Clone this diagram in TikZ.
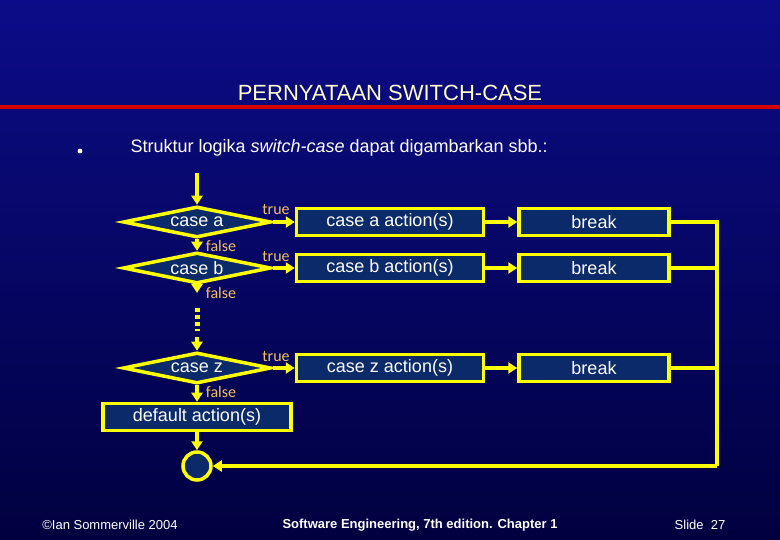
\documentclass[tikz,border=0pt]{standalone}
\usepackage{fontspec}
\setmainfont{Liberation Sans}
\newfontfamily\carl{Carlito}
\usetikzlibrary{shapes.geometric,arrows.meta}
\definecolor{bgtop}{HTML}{0C0C88}
\definecolor{bgbot}{HTML}{000040}
\definecolor{yel}{HTML}{FFFF00}
\definecolor{boxfill}{HTML}{0B2A6A}
\definecolor{lab}{HTML}{F0C060}
\definecolor{ttl}{HTML}{FFFFCC}
\begin{document}
\begin{tikzpicture}[x=1pt,y=-1pt,
  box/.style={draw=yel,line width=3.5pt,fill=boxfill,minimum height=27pt,text=white,font=\fontsize{18}{18}\selectfont,inner sep=0pt},
  dia/.style={diamond,draw=yel,line width=3.5pt,fill=boxfill,aspect=5,minimum width=148pt,minimum height=31pt,inner sep=0pt,text=white,font=\fontsize{18}{18}\selectfont},
  con/.style={yel,line width=3.5pt},
  arr/.style={con,-{Triangle[length=9pt,width=11pt]}},
  lbl/.style={text=lab,font=\carl\fontsize{16}{16}\selectfont,inner sep=0pt}]
\shade[top color=bgtop,bottom color=bgbot] (0,0) rectangle (780,540);
\useasboundingbox (0,0) rectangle (780,540);
\fill[red!85!black] (0,105.5) rectangle (780,109);
\node[text=ttl,font=\fontsize{22}{22}\selectfont] (title) at (390,93) {PERNYATAAN SWITCH-CASE};
\fill[white] (80,151) circle (2.4);
\node[anchor=west,text=white,font=\fontsize{18}{18}\selectfont] (txt) at (127,148) {Struktur logika \textit{switch-case} dapat digambarkan sbb.:};
\coordinate (start) at (197,173);
\node[dia] (ca) at (197,222) {case a};
\node[dia] (cb) at (197,268) {case b};
\node[dia] (cz) at (197,368) {case z};
\node[box,minimum width=187pt] (aa) at (390,222) {case a action(s)};
\node[box,minimum width=187pt] (ab) at (390,268) {case b action(s)};
\node[box,minimum width=187pt] (az) at (390,368) {case z action(s)};
\node[box,minimum width=150pt] (ba) at (594,222) {break};
\node[box,minimum width=150pt] (bb) at (594,268) {break};
\node[box,minimum width=150pt] (bz) at (594,368) {break};
\node[box,minimum width=188pt] (def) at (197,417) {default action(s)};
\node[circle,draw=yel,line width=3.5pt,fill=boxfill,minimum size=28pt,inner sep=0pt] (end) at (197,466) {};
\coordinate (d1) at (197,293);
\coordinate (d2) at (197,308);
\coordinate (d3) at (197,331);
\coordinate (d4) at (197,337);
\coordinate (rt) at (717,222);
\coordinate (rb) at (717,466);
\draw[arr] (start) -- (ca.north);
\draw[arr] (ca.south) -- (cb.north);
\draw[arr] (cb.south) -- (d1);
\draw[yel,line width=5pt,dash pattern=on 4pt off 3pt] (d2) -- (d3);
\draw[arr] (d4) -- (cz.north);
\draw[arr] (cz.south) -- (def.north);
\draw[arr] (def.south) -- (end.north);
\foreach \d/\a/\b in {ca/aa/ba,cb/ab/bb,cz/az/bz}{
  \draw[arr] (\d.east) -- (\a.west);
  \draw[arr] (\a.east) -- (\b.west);
}
\draw[con] (ba.east) -- (rt) -- (rb);
\draw[con] (bb.east) -- (bb.east -| rt);
\draw[con] (bz.east) -- (bz.east -| rt);
\draw[arr] (rb) -- (end.east);
\node[lbl] (t1) at (276,210) {true};
\node[lbl] (t2) at (276,257) {true};
\node[lbl] (t3) at (276,357) {true};
\node[lbl] (f1) at (221,246) {false};
\node[lbl] (f2) at (221,293) {false};
\node[lbl] (f3) at (221,392) {false};
\node[text=white,font=\fontsize{13}{13}\selectfont] (c) at (110,525) {©Ian Sommerville 2004};
\node[text=white,font=\bfseries\fontsize{13}{13}\selectfont] (se) at (420,525) {Software Engineering, 7th edition. Chapter 1};
\node[text=white,font=\fontsize{13}{13}\selectfont] (sl) at (700,525) {Slide\ \ 27};
\end{tikzpicture}
\end{document}
